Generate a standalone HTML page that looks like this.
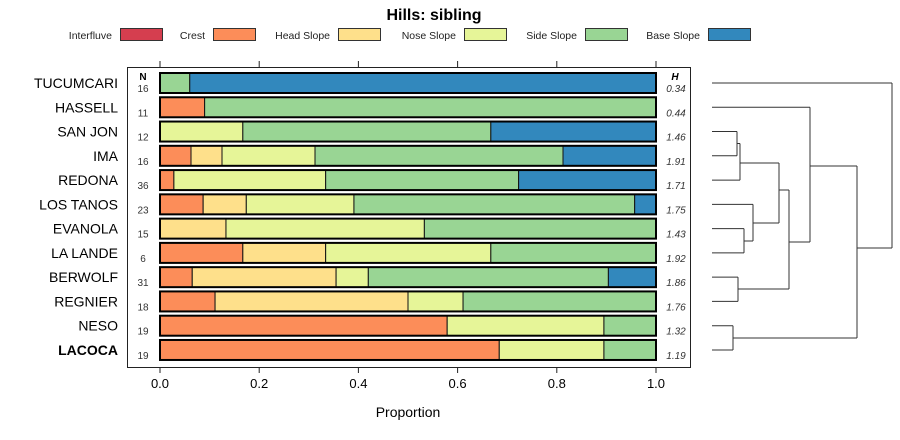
<!DOCTYPE html>
<html><head><meta charset="utf-8"><style>
body{margin:0;background:#fff}
svg{font-family:"Liberation Sans",sans-serif;display:block}
</style></head><body>
<svg id="chart" width="900" height="440"></svg>
<script>
const names=["TUCUMCARI","HASSELL","SAN JON","IMA","REDONA","LOS TANOS","EVANOLA","LA LANDE","BERWOLF","REGNIER","NESO","LACOCA"];
const nVals=[16,11,12,16,36,23,15,6,31,18,19,19];
const hVals=["0.34","0.44","1.46","1.91","1.71","1.75","1.43","1.92","1.86","1.76","1.32","1.19"];
const classes=["Interfluve","Crest","Head Slope","Nose Slope","Side Slope","Base Slope"];
const colors=["#D53E4F","#FC8D59","#FEE08B","#E6F598","#99D594","#3288BD"];
const interfluve=[0,0,0,0,0,0,0,0,0,0,0,0];
const crest=[0,0.09,0,0.0625,0.028,0.087,0,0.167,0.065,0.111,0.579,0.684];
const headSlope=[0,0,0,0.0625,0,0.087,0.133,0.167,0.29,0.389,0,0];
const noseSlope=[0,0,0.167,0.1875,0.306,0.217,0.4,0.333,0.065,0.111,0.316,0.211];
const sideSlope=[0.06,0.91,0.5,0.5,0.389,0.566,0.467,0.333,0.484,0.389,0.105,0.105];
const baseSlope=[0.94,0,0.333,0.1875,0.277,0.043,0,0,0.096,0,0,0];
const xTicks=[0,0.2,0.4,0.6,0.8,1.0];
const xTickLabels=["0.0","0.2","0.4","0.6","0.8","1.0"];
const series=[interfluve,crest,headSlope,noseSlope,sideSlope,baseSlope];
const NS="http://www.w3.org/2000/svg";
const svg=document.getElementById("chart");
function x(v){return 160+v*496;}
function y(i){return 83+i*24.27;}
function el(t,a,txt){const e=document.createElementNS(NS,t);for(const k in a)e.setAttribute(k,a[k]);if(txt!==undefined)e.textContent=txt;svg.appendChild(e);return e;}
let e=el("text",{x:434,y:20,"text-anchor":"middle","font-size":16,"font-weight":"bold"},"Hills: sibling");


const legX=[120,213,338,464,585,708];
classes.forEach((c,k)=>{
 let t=el("text",{x:legX[k]-8,y:39,"text-anchor":"end","font-size":10.5,fill:"#222"},c);
 
 
 let r=el("rect",{x:legX[k]+0.5,y:28.5,width:42,height:12,fill:colors[k],stroke:"#333","stroke-width":1});
 
 
});
let p=el("rect",{x:127.5,y:67.5,width:563,height:300,fill:"none",stroke:"#222"});


xTicks.forEach((v,k)=>{
 let l1=el("line",{x1:x(v),x2:x(v),y1:61,y2:67,stroke:"#222"});
 
 
 let l2=el("line",{x1:x(v),x2:x(v),y1:367,y2:373,stroke:"#222"});
 
 
 let t=el("text",{x:x(v),y:388,"text-anchor":"middle","font-size":13},xTickLabels[k]);
 
 
});
let xt=el("text",{x:408,y:417,"text-anchor":"middle","font-size":14},"Proportion");


let nh=el("text",{x:143,y:80,"text-anchor":"middle","font-size":10,"font-weight":"bold"},"N");


let hh=el("text",{x:675,y:80,"text-anchor":"middle","font-size":10,"font-weight":"bold","font-style":"italic"},"H");


names.forEach((n,i)=>{
 const cy=y(i);
 let t=el("text",{x:118,y:cy+5,"text-anchor":"end","font-size":14,"font-weight":n==="LACOCA"?"bold":"normal"},n);
 
 
 let nt=el("text",{x:143,y:cy+9,"text-anchor":"middle","font-size":10,fill:"#333"},nVals[i]);
 
 
 let ht=el("text",{x:676,y:cy+9,"text-anchor":"middle","font-size":10,"font-style":"italic",fill:"#333"},hVals[i]);
 
 
 let cum=0;
 series.forEach((s,k)=>{
  const v=s[i];
  if(v>0){
   let r=el("rect",{x:x(cum),y:cy-10,width:x(cum+v)-x(cum),height:20,fill:colors[k],stroke:"#111","stroke-width":1});
   
   
  }
  cum+=v;
 });
 let o=el("rect",{x:x(0),y:cy-10,width:x(1)-x(0),height:20,fill:"none",stroke:"#000","stroke-width":2});
 
 
});
const segs=[
 [712,y(2),737,y(2)],[712,y(3),737,y(3)],[737,y(2),737,y(3)],
 [737,143.5,740,143.5],[712,y(4),740,y(4)],[740,143.5,740,y(4)],
 [712,y(6),744,y(6)],[712,y(7),744,y(7)],[744,y(6),744,y(7)],
 [712,y(5),753,y(5)],[744,241,753,241],[753,y(5),753,241],
 [740,163,779,163],[753,223,779,223],[779,163,779,223],
 [712,y(8),738,y(8)],[712,y(9),738,y(9)],[738,y(8),738,y(9)],
 [779,190,789,190],[738,289,789,289],[789,190,789,289],
 [712,y(1),810,y(1)],[789,242,810,242],[810,y(1),810,242],
 [712,y(10),733,y(10)],[712,y(11),733,y(11)],[733,y(10),733,y(11)],
 [810,166,857,166],[733,338,857,338],[857,166,857,338],
 [712,y(0),892,y(0)],[857,248,892,248],[892,y(0),892,248]
];
segs.forEach(s=>{
 let l=el("line",{x1:s[0],y1:s[1],x2:s[2],y2:s[3],stroke:"#333","stroke-width":1});
 
 
});
</script>
</body></html>
